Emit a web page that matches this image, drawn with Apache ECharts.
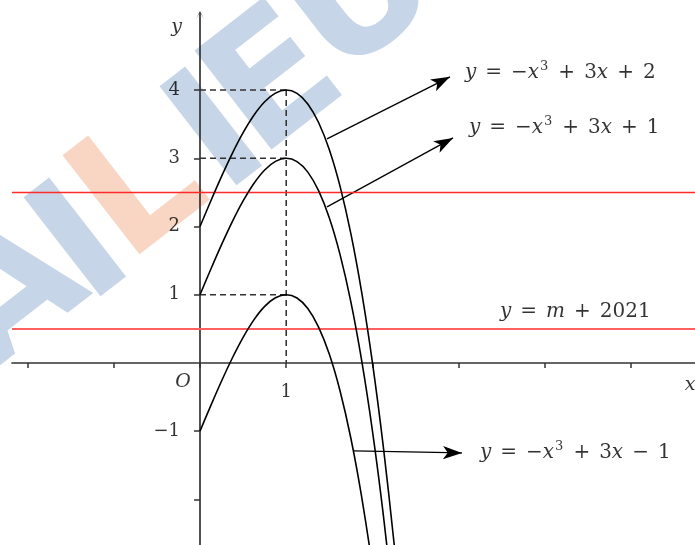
<!DOCTYPE html>
<html><head><meta charset="utf-8">
<script src="https://cdn.jsdelivr.net/npm/echarts@6/dist/echarts.min.js"></script>
<style>html,body{margin:0;padding:0;background:#fff}#c{width:695px;height:545px}</style>
</head><body><div id="c"></div>
<script>
// ---- data ----
const xs        = [0, 0.125, 0.25, 0.375, 0.5, 0.625, 0.75, 0.875, 1, 1.125, 1.25, 1.375, 1.5, 1.625, 1.75, 1.875, 2, 2.125, 2.25, 2.375];
const curvePlus2  = [2, 2.373, 2.734, 3.072, 3.375, 3.631, 3.828, 3.955, 4, 3.951, 3.797, 3.525, 3.125, 2.584, 1.891, 1.033, 0, -1.221, -2.641, -4.271];
const curvePlus1  = [1, 1.373, 1.734, 2.072, 2.375, 2.631, 2.828, 2.955, 3, 2.951, 2.797, 2.525, 2.125, 1.584, 0.891, 0.033, -1, -2.221, -3.641, -5.271];
const curveMinus1 = [-1, -0.627, -0.266, 0.072, 0.375, 0.631, 0.828, 0.955, 1, 0.951, 0.797, 0.525, 0.125, -0.416, -1.109, -1.967, -3, -4.221, -5.641, -7.271];
const redLevels   = [2.5, 0.5];
const peakX       = 1;
const peakLevels  = [4, 3, 1];
const xTicks      = [-2, -1, 0, 1, 2, 3, 4, 5];
const xTickLabels = [1];
const yTicks      = [-2, -1, 1, 2, 3, 4];
const yTickLabels = [-1, 1, 2, 3, 4];
const arrowStarts = [[1.473, 3.284], [1.473, 2.287], [1.786, -1.29]];
const arrowEnds   = [[2.899, 4.194], [2.934, 3.299], [3.038, -1.32]];
const equationTexts = [
  '{i|y}{o|=}{u|−}{i|x}{s|3}{o|+}{r|3}{i|x}{o|+}{r|2}',
  '{i|y}{o|=}{u|−}{i|x}{s|3}{o|+}{r|3}{i|x}{o|+}{r|1}',
  '{i|y}{o|=}{u|−}{i|x}{s|3}{o|+}{r|3}{i|x}{o|−}{r|1}',
  '{i|y}{o|=}{i|m}{o|+}{r|2021}'
];
const equationAnchors = [[3.073, 4.252], [3.119, 3.446], [3.247, -1.32], [3.479, 0.748]];
const axisNames   = ['O', 'x', 'y'];
const axisNameAnchors = [[-0.197, -0.286], [5.682, -0.323], [-0.272, 4.927]];
const watermarkLetters = ['A', 'I', 'L', 'I', 'E', 'U'];

// ---- styles ----
const SERIF = '"DejaVu Serif", "Liberation Serif", serif';
const INK = '#000';
const rich = {
  i: {fontFamily: SERIF, fontStyle: 'italic', fontSize: 20, color: INK, lineHeight: 26},
  r: {fontFamily: SERIF, fontSize: 20, color: INK, lineHeight: 26},
  u: {fontFamily: SERIF, fontSize: 20, color: INK, lineHeight: 26},
  o: {fontFamily: SERIF, fontSize: 20, color: INK, lineHeight: 26, padding: [0, 9, 0, 9]},
  s: {fontFamily: SERIF, fontSize: 13, color: INK, lineHeight: 15, verticalAlign: 'top', padding: [0, 1, 0, 1]}
};

const wmPos = [[14, 298], [86, 251], [143, 195], [222, 140], [278, 88], [365, 3]];
const wmColor = ['#c6d5e8', '#c6d5e8', '#f8d6c3', '#c6d5e8', '#c6d5e8', '#c6d5e8'];

const chart = echarts.init(document.getElementById('c'), null, {renderer: 'canvas'});

const curveStyle = {color: '#000', width: 1.6};
const series = [];
[curvePlus2, curvePlus1, curveMinus1].forEach((vals, k) => {
  const s = {
    type: 'line', data: xs.map((x, i) => [x, vals[i]]), showSymbol: false,
    smooth: 0.3, clip: true, lineStyle: curveStyle, z: 5, silent: true
  };
  if (k === 0) {
    s.markLine = {
      silent: true, symbol: ['none', 'arrow'], symbolSize: [10, 19], label: {show: false},
      lineStyle: {color: '#000', width: 1.3, type: 'solid'},
      data: arrowStarts.map((a, j) => [{coord: a}, {coord: arrowEnds[j]}])
    };
  }
  if (k === 1) {
    s.markLine = {
      silent: true, symbol: 'none', label: {show: false},
      data: [
        {yAxis: redLevels[0], lineStyle: {color: '#ff2b2b', width: 1.3, type: 'solid'}},
        {yAxis: redLevels[1], lineStyle: {color: '#ff5f5f', width: 2.2, type: 'solid'}}
      ]
    };
  }
  series.push(s);
});
const dashStyle = {color: '#333', width: 1.6, type: [6, 4]};
peakLevels.forEach(L => {
  series.push({type: 'line', data: [[0, L], [peakX, L]], showSymbol: false, lineStyle: dashStyle, z: 3, silent: true});
});
series.push({type: 'line', data: [[peakX, peakLevels[0]], [peakX, 0]], showSymbol: false, lineStyle: dashStyle, z: 3, silent: true});

series.push({
  type: 'scatter', symbolSize: 0, silent: true, z: 6,
  data: equationAnchors.map((p, i) => ({value: p, label: {formatter: equationTexts[i]}})),
  label: {show: true, position: 'right', distance: 0, rich: rich}
});
series.push({
  type: 'scatter', symbolSize: 0, silent: true, z: 6,
  data: axisNameAnchors.map((p, i) => ({value: p, label: {formatter: axisNames[i]}})),
  label: {show: true, position: 'inside', fontFamily: SERIF, fontStyle: 'italic', fontSize: 19, color: INK}
});
const tickLabelStyle = {fontFamily: SERIF, fontSize: 18, color: INK, lineHeight: 18};
// tick labels placed next to the axis lines (which sit on zero)
series.push({
  type: 'scatter', symbolSize: 0, silent: true, z: 6,
  data: yTickLabels.map(v => [0, v]),
  label: Object.assign({show: true, position: 'left', distance: 20,
    formatter: p => (p.value[1] < 0 ? '−' + Math.abs(p.value[1]) : String(p.value[1]))}, tickLabelStyle)
});
series.push({
  type: 'scatter', symbolSize: 0, silent: true, z: 6,
  data: xTickLabels.map(v => [v, 0]),
  label: Object.assign({show: true, position: 'bottom', distance: 20,
    formatter: p => String(p.value[0])}, tickLabelStyle)
});

chart.setOption({
  animation: false,
  backgroundColor: '#fff',
  grid: {left: 12, right: 0, top: 13, bottom: 0, containLabel: false, outerBoundsMode: 'none'},
  xAxis: {
    type: 'value', min: -2.18, max: 5.74,
    axisLine: {onZero: true, lineStyle: {color: '#333', width: 1.7}},
    axisTick: {show: true, customValues: xTicks, length: 5, lineStyle: {color: '#333', width: 1.5}},
    axisLabel: {show: false},
    splitLine: {show: false}
  },
  yAxis: {
    type: 'value', min: -2.67, max: 5.13,
    axisLine: {onZero: true, symbol: ['none', 'path://M0,10 L5,0 L10,10 L5,1.5 Z'], symbolSize: [9, 8], symbolOffset: [0, -2],
      lineStyle: {color: '#333', width: 1.7}},
    axisTick: {show: true, customValues: yTicks, length: 6, lineStyle: {color: '#333', width: 1.5}},
    axisLabel: {show: false},
    splitLine: {show: false}
  },
  graphic: watermarkLetters.map((ch, i) => ({
    type: 'text', x: wmPos[i][0], y: wmPos[i][1], rotation: 0.66, z: -10, silent: true,
    style: {text: ch, fill: wmColor[i], font: 'bold 172px "DejaVu Sans"', align: 'center', verticalAlign: 'middle'}
  })),
  series: series
});
</script></body></html>
